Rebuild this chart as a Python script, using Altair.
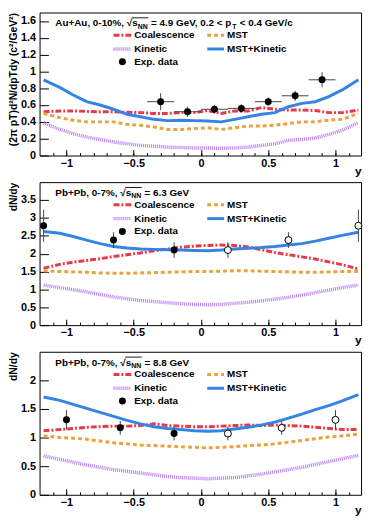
import altair as alt
import pandas as pd

# ---------------- data ----------------
RAP = [-1.17, -1.05, -0.95, -0.85, -0.75, -0.65, -0.55, -0.45, -0.35, -0.25, -0.15, -0.05,
       0.05, 0.15, 0.25, 0.35, 0.45, 0.55, 0.65, 0.75, 0.85, 0.95, 1.05, 1.17]

# Panel 1: Au+Au 0-10%, 4.9 GeV
AU_COAL = [0.52, 0.53, 0.53, 0.525, 0.52, 0.52, 0.515, 0.51, 0.50, 0.50, 0.51, 0.51,
           0.535, 0.50, 0.53, 0.53, 0.57, 0.55, 0.54, 0.54, 0.535, 0.51, 0.51, 0.54]
AU_MST = [0.50, 0.45, 0.42, 0.40, 0.40, 0.40, 0.37, 0.36, 0.34, 0.31, 0.31, 0.32,
          0.33, 0.31, 0.33, 0.35, 0.35, 0.36, 0.38, 0.40, 0.40, 0.42, 0.43, 0.50]
AU_KIN = [0.39, 0.31, 0.26, 0.22, 0.19, 0.16, 0.14, 0.12, 0.11, 0.10, 0.095, 0.09,
          0.09, 0.085, 0.09, 0.10, 0.12, 0.14, 0.18, 0.19, 0.21, 0.25, 0.30, 0.39]
AU_MSTKIN = [0.90, 0.81, 0.72, 0.64, 0.60, 0.55, 0.49, 0.46, 0.43, 0.415, 0.42, 0.415,
             0.41, 0.40, 0.43, 0.46, 0.49, 0.51, 0.58, 0.62, 0.64, 0.70, 0.78, 0.90]
AU_EXP_RAP = [-0.3, -0.1, 0.1, 0.3, 0.5, 0.7, 0.9]
AU_EXP_VAL = [0.64, 0.52, 0.55, 0.56, 0.64, 0.71, 0.90]
AU_EXP_ERR = [0.10, 0.06, 0.05, 0.05, 0.05, 0.06, 0.09]
AU_EXP_XERR = [0.1, 0.1, 0.1, 0.1, 0.1, 0.1, 0.1]

# Panel 2: Pb+Pb 0-7%, 6.3 GeV
PB63_COAL = [1.59, 1.70, 1.76, 1.81, 1.86, 1.92, 1.97, 2.02, 2.08, 2.13, 2.18, 2.21,
             2.23, 2.24, 2.23, 2.19, 2.11, 2.03, 1.97, 1.91, 1.85, 1.77, 1.69, 1.57]
PB63_MST = [1.52, 1.50, 1.49, 1.48, 1.46, 1.45, 1.45, 1.46, 1.47, 1.48, 1.49, 1.50,
            1.50, 1.51, 1.52, 1.52, 1.51, 1.50, 1.49, 1.48, 1.48, 1.49, 1.50, 1.50]
PB63_KIN = [1.12, 1.05, 0.99, 0.93, 0.86, 0.79, 0.74, 0.69, 0.66, 0.63, 0.60, 0.58,
            0.57, 0.58, 0.61, 0.64, 0.68, 0.73, 0.78, 0.84, 0.91, 0.98, 1.05, 1.12]
PB63_MSTKIN = [2.62, 2.57, 2.48, 2.38, 2.28, 2.20, 2.16, 2.13, 2.12, 2.11, 2.10, 2.09,
               2.08, 2.10, 2.13, 2.15, 2.17, 2.20, 2.24, 2.28, 2.35, 2.43, 2.51, 2.60]
PB63_EXP_RAP = [-1.17, -0.65, -0.2]
PB63_EXP_VAL = [2.78, 2.38, 2.10]
PB63_EXP_ERR = [0.45, 0.22, 0.22]
PB63_OPEN_RAP = [0.2, 0.65, 1.17]
PB63_OPEN_VAL = [2.10, 2.38, 2.78]
PB63_OPEN_ERR = [0.22, 0.22, 0.45]

# Panel 3: Pb+Pb 0-7%, 8.8 GeV
PB88_COAL = [1.12, 1.14, 1.16, 1.18, 1.19, 1.20, 1.20, 1.21, 1.24, 1.21, 1.20, 1.19,
             1.19, 1.20, 1.21, 1.22, 1.21, 1.22, 1.21, 1.20, 1.18, 1.16, 1.14, 1.14]
PB88_MST = [1.03, 1.00, 0.99, 0.97, 0.94, 0.91, 0.89, 0.87, 0.86, 0.85, 0.84, 0.83,
            0.82, 0.83, 0.84, 0.86, 0.87, 0.89, 0.92, 0.95, 0.98, 1.01, 1.03, 1.06]
PB88_KIN = [0.68, 0.62, 0.57, 0.52, 0.48, 0.44, 0.41, 0.38, 0.35, 0.32, 0.30, 0.29,
            0.28, 0.29, 0.30, 0.33, 0.36, 0.40, 0.44, 0.48, 0.53, 0.58, 0.63, 0.69]
PB88_MSTKIN = [1.71, 1.65, 1.58, 1.51, 1.44, 1.37, 1.30, 1.24, 1.19, 1.16, 1.14, 1.12,
               1.11, 1.12, 1.15, 1.18, 1.22, 1.27, 1.34, 1.41, 1.49, 1.56, 1.64, 1.75]
PB88_EXP_RAP = [-1.0, -0.6, -0.2]
PB88_EXP_VAL = [1.31, 1.17, 1.07]
PB88_EXP_ERR = [0.17, 0.12, 0.12]
PB88_OPEN_RAP = [0.2, 0.6, 1.0]
PB88_OPEN_VAL = [1.07, 1.17, 1.31]
PB88_OPEN_ERR = [0.12, 0.12, 0.17]

MODELS = ["Coalescence", "MST", "Kinetic", "MST+Kinetic"]

# ---------------- styling ----------------
W, H = 326, 145
FONT = "Liberation Sans"
STYLE = {
    "Coalescence": dict(color="#e8394a", strokeDash=[6, 2, 2, 2], strokeWidth=3),
    "MST": dict(color="#e8a33c", strokeDash=[4, 3], strokeWidth=3),
    "Kinetic": dict(color="#b57cf2", strokeDash=[1, 1], strokeWidth=3.5),
    "MST+Kinetic": dict(color="#3584e4", strokeWidth=3),
}
ANNOT = pd.DataFrame({"n": [0]})

BOLD_W = {' ': 278, '%': 889, '+': 584, ',': 278, '-': 333, '.': 278, '/': 278, '<': 584,
          '=': 584, 'A': 722, 'G': 778, 'N': 722, 'P': 667, 'T': 611, 'V': 667, 'b': 611,
          'c': 556, 'e': 556, 'p': 611, 's': 556, 'u': 611, '\u221a': 549}


def tw(s, size):
    return sum(BOLD_W.get(c, 556) for c in s) * size / 1000.0


def curves_df(coal, mst, kin, mk):
    return pd.DataFrame({
        "rap": RAP * 4,
        "val": coal + mst + kin + mk,
        "model": sum([[m] * len(RAP) for m in MODELS], []),
    })


def exp_df(rap, val, err, xerr, kind):
    df = pd.DataFrame({"rap": rap, "val": val, "err": err, "xerr": xerr})
    df["lo"] = df["val"] - df["err"]
    df["hi"] = df["val"] + df["err"]
    df["xlo"] = df["rap"] - df["xerr"]
    df["xhi"] = df["rap"] + df["xerr"]
    df["kind"] = kind
    return df


def title_layers(parts, x0=16, ybase=14):
    out = []
    x = x0
    sq_start = None
    for txt, sub in parts:
        size = 7 if sub else 10
        lead = len(txt) - len(txt.lstrip(' '))
        x += tw(' ' * lead, size)
        t = txt.lstrip(' ')
        if '\u221a' in t:
            sq_start = x + tw(t[:t.index('\u221a') + 1], size)
        out.append(alt.Chart(ANNOT).mark_text(
            text=t, align='left', baseline='alphabetic', fontSize=size,
            fontWeight='bold', font=FONT, color='black'
        ).encode(x=alt.value(x), y=alt.value(ybase + (2.5 if sub else 0))))
        x += tw(t, size) + (0.6 if sub else 0)
        if sub and sq_start is not None and t == "NN":
            out.append(alt.Chart(ANNOT).mark_rule(color='black', strokeWidth=0.9).encode(
                x=alt.value(sq_start - 0.5), x2=alt.value(x), y=alt.value(ybase - 8.6)))
            sq_start = None
    return out


def legend_layers():
    out = []
    rows = [23, 37, 50]
    cols = [(75, 93, 96), (170, 187, 190)]
    pos = {"Coalescence": (0, 0), "MST": (1, 0), "Kinetic": (0, 1), "MST+Kinetic": (1, 1)}
    for name in MODELS:
        c, r = pos[name]
        a, b, tx = cols[c]
        out.append(alt.Chart(ANNOT).mark_rule(**STYLE[name]).encode(
            x=alt.value(a), x2=alt.value(b), y=alt.value(rows[r])))
        out.append(alt.Chart(ANNOT).mark_text(
            text=name, align='left', baseline='middle', fontSize=10, fontWeight='bold',
            font=FONT, color='black').encode(x=alt.value(tx), y=alt.value(rows[r])))
    out.append(alt.Chart(ANNOT).mark_point(shape='circle', filled=True, size=50, color='black',
                                           opacity=1).encode(x=alt.value(84), y=alt.value(rows[2])))
    out.append(alt.Chart(ANNOT).mark_text(
        text="Exp. data", align='left', baseline='middle', fontSize=10, fontWeight='bold',
        font=FONT, color='black').encode(x=alt.value(96), y=alt.value(rows[2])))
    return out


def panel(curves, exp, ydom, yticks, ytitle, tparts, xerrbars=False):
    xs = alt.Scale(domain=[-1.2, 1.19], nice=False, zero=False)
    ys = alt.Scale(domain=ydom, nice=False, zero=False)
    layers = []
    for i, name in enumerate(MODELS):
        if i == 0:
            xax = alt.Axis(values=[-1, -0.5, 0, 0.5, 1], format="~g", ticks=False, domain=False,
                           grid=False, labelFontSize=11, labelPadding=2, title="y",
                           titleFontSize=12, titleX=W, titleY=10, titleAlign="right",
                           titleBaseline="top")
            yax = alt.Axis(values=yticks, format="~g", ticks=False, domain=False, grid=False,
                           labelFontSize=11, labelPadding=4, title=ytitle, titleFontSize=10.5,
                           titleAnchor="end", titlePadding=2)
        else:
            xax = None
            yax = None
        layers.append(
            alt.Chart(curves).transform_filter(alt.datum.model == name)
            .mark_line(**STYLE[name], strokeCap="butt")
            .encode(x=alt.X("rap:Q", scale=xs, axis=xax),
                    y=alt.Y("val:Q", scale=ys, axis=yax))
        )
    # inward tick marks (ROOT style)
    layers.append(
        alt.Chart(curves).mark_point(opacity=0).encode(
            x=alt.X("rap:Q", scale=xs, axis=alt.Axis(
                orient="top", offset=-H, values=[-1, -0.5, 0, 0.5, 1], labels=False,
                domain=False, grid=False, ticks=True, tickSize=6, tickColor="black", title=None)),
            y=alt.Y("val:Q", scale=ys, axis=alt.Axis(
                orient="right", offset=-W, values=yticks, labels=False, domain=False,
                grid=False, ticks=True, tickSize=9, tickColor="black", title=None)))
    )
    minor = [round(-1.1 + 0.1 * k, 2) for k in range(23)]
    layers.append(
        alt.Chart(curves).mark_point(opacity=0).encode(
            x=alt.X("rap:Q", scale=xs, axis=alt.Axis(
                orient="top", offset=-H, values=minor, labels=False,
                domain=False, grid=False, ticks=True, tickSize=3, tickColor="black", title=None)),
            y=alt.Y("val:Q", scale=ys, axis=None))
    )
    # experimental data
    layers.append(
        alt.Chart(exp).mark_rule(color="#444", strokeWidth=1).encode(
            x=alt.X("rap:Q", scale=xs, axis=None),
            y=alt.Y("lo:Q", scale=ys, axis=None), y2="hi:Q"))
    if xerrbars:
        layers.append(
            alt.Chart(exp).mark_rule(color="#444", strokeWidth=1).encode(
                x=alt.X("xlo:Q", scale=xs, axis=None), x2="xhi:Q",
                y=alt.Y("val:Q", scale=ys, axis=None)))
    layers.append(
        alt.Chart(exp).transform_filter(alt.datum.kind == "filled")
        .mark_point(shape="circle", filled=True, size=50, color="black", opacity=1)
        .encode(x=alt.X("rap:Q", scale=xs, axis=None), y=alt.Y("val:Q", scale=ys, axis=None)))
    layers.append(
        alt.Chart(exp).transform_filter(alt.datum.kind == "open")
        .mark_point(shape="circle", filled=True, size=50, fill="white", stroke="black",
                    strokeWidth=1, opacity=1)
        .encode(x=alt.X("rap:Q", scale=xs, axis=None), y=alt.Y("val:Q", scale=ys, axis=None)))
    layers += title_layers(tparts)
    layers += legend_layers()
    return alt.layer(*layers).resolve_axis(x="independent", y="independent").properties(
        width=W, height=H)


exp1 = exp_df(AU_EXP_RAP, AU_EXP_VAL, AU_EXP_ERR, AU_EXP_XERR, "filled")
exp2 = pd.concat([exp_df(PB63_EXP_RAP, PB63_EXP_VAL, PB63_EXP_ERR, [0] * 3, "filled"),
                  exp_df(PB63_OPEN_RAP, PB63_OPEN_VAL, PB63_OPEN_ERR, [0] * 3, "open")])
exp3 = pd.concat([exp_df(PB88_EXP_RAP, PB88_EXP_VAL, PB88_EXP_ERR, [0] * 3, "filled"),
                  exp_df(PB88_OPEN_RAP, PB88_OPEN_VAL, PB88_OPEN_ERR, [0] * 3, "open")])

p1 = panel(curves_df(AU_COAL, AU_MST, AU_KIN, AU_MSTKIN), exp1, [0, 1.7],
           [0, 0.2, 0.4, 0.6, 0.8, 1.0, 1.2, 1.4, 1.6],
           "(2\u03c0 pT)d\u00b2N/dpTdy (c\u00b2/GeV\u00b2)",
           [("Au+Au, 0-10%, \u221as", False), ("NN", True), (" = 4.9 GeV, 0.2 < p", False),
            ("T", True), (" < 0.4 GeV/c", False)], xerrbars=True)
p2 = panel(curves_df(PB63_COAL, PB63_MST, PB63_KIN, PB63_MSTKIN), exp2, [0, 4.0],
           [0, 0.5, 1, 1.5, 2, 2.5, 3, 3.5], "dN/dy",
           [("Pb+Pb, 0-7%, \u221as", False), ("NN", True), (" = 6.3 GeV", False)])
p3 = panel(curves_df(PB88_COAL, PB88_MST, PB88_KIN, PB88_MSTKIN), exp3, [0, 2.5],
           [0, 0.5, 1, 1.5, 2], "dN/dy",
           [("Pb+Pb, 0-7%, \u221as", False), ("NN", True), (" = 8.8 GeV", False)])

chart = alt.vconcat(p1, p2, p3, spacing=4).properties(padding=0).configure_view(
    stroke="black", strokeWidth=1
).configure_axis(
    labelFont=FONT, titleFont=FONT, labelFontWeight="bold", titleFontWeight="bold",
    labelColor="black", titleColor="black"
)

chart.save("out.html", embed_options={"renderer": "svg", "actions": False})
